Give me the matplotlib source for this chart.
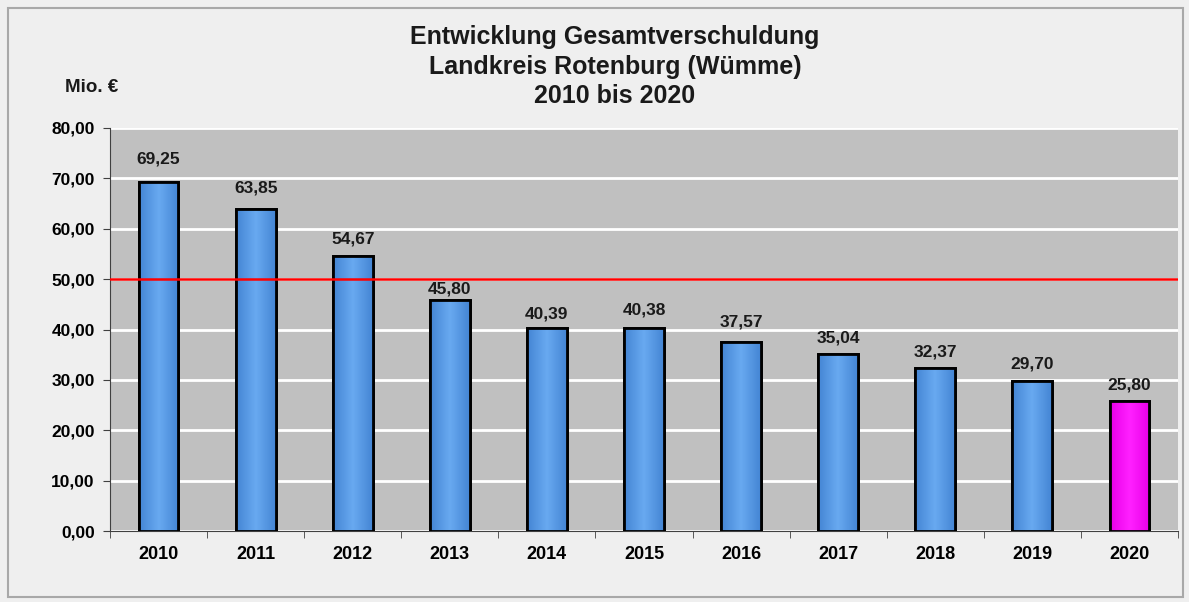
import numpy as np
import matplotlib.pyplot as plt
from matplotlib.patches import Rectangle
from matplotlib.colors import LinearSegmentedColormap

plt.rcParams['font.family'] = ['Liberation Sans', 'DejaVu Sans']

# Daten
jahre = ['2010', '2011', '2012', '2013', '2014', '2015', '2016', '2017', '2018', '2019', '2020']
schulden = [69.25, 63.85, 54.67, 45.80, 40.39, 40.38, 37.57, 35.04, 32.37, 29.70, 25.80]
grenze = 50.0
yticks = [0, 10, 20, 30, 40, 50, 60, 70, 80]

# Abstand der Beschriftung über dem Balken (Pixel), wie im Original
label_abstand = [16, 14, 9, 4, 6, 10, 12, 9, 8, 10, 9]

fig = plt.figure(figsize=(11.89, 6.02), dpi=100)
fig.patch.set_facecolor('#efefef')

# Rahmen um das Diagramm
fig.patches.append(Rectangle((8 / 1189, 5 / 602), 1175 / 1189, 589 / 602, transform=fig.transFigure,
                             fill=False, edgecolor='#a8a8a8', linewidth=1.5))

ax = fig.add_axes([110 / 1189, 71 / 602, 1068 / 1189, 403 / 602])
ax.set_facecolor('#c0c0c0')

x = np.arange(len(jahre))
farben = ['#5a9ae4'] * (len(jahre) - 1) + ['#ff00ff']
bars = ax.bar(x, schulden, width=0.41, color=farben, edgecolor='black', linewidth=2, zorder=3)

# leichter Farbverlauf in den Balken
grad = np.abs(np.linspace(-1, 1, 64))[None, :]
blau = LinearSegmentedColormap.from_list('blau', ['#68a9f0', '#4485d4'])
pink = LinearSegmentedColormap.from_list('pink', ['#ff20ff', '#e800e8'])
for b, f in zip(bars, farben):
    im = ax.imshow(grad, extent=[b.get_x(), b.get_x() + b.get_width(), 0, b.get_height()],
                   aspect='auto', cmap=pink if f == '#ff00ff' else blau, zorder=3.5)
    im.set_clip_path(b)
    ax.add_patch(Rectangle((b.get_x(), 0), b.get_width(), b.get_height(), fill=False,
                           edgecolor='black', linewidth=2, zorder=4))

for xi, v, d in zip(x, schulden, label_abstand):
    ax.annotate(f'{v:.2f}'.replace('.', ','), (xi, v), xytext=(0, d * 0.72), textcoords='offset points',
                ha='center', va='bottom', fontsize=12.5, fontweight='bold', color='#1a1a1a', zorder=6)

ax.axhline(grenze, color='#ff0000', linewidth=1.8, zorder=5)

ax.set_ylim(0, 80)
ax.set_xlim(-0.5, len(jahre) - 0.5)
ax.set_yticks(yticks)
ax.set_yticklabels([f'{t:.2f}'.replace('.', ',') for t in yticks], fontsize=12.5, fontweight='bold')
ax.yaxis.grid(True, color='white', linewidth=2)
ax.set_axisbelow(True)

ax.set_xticks(x)
ax.set_xticklabels(jahre, fontsize=13, fontweight='bold')
ax.set_xticks(np.arange(-0.5, len(jahre)), minor=True)
ax.tick_params(axis='x', which='major', length=0, pad=11)
ax.tick_params(axis='x', which='minor', length=5, color='#404040')
ax.tick_params(axis='y', length=5, color='#404040', pad=6)

for s in ['top', 'right']:
    ax.spines[s].set_visible(False)
for s in ['left', 'bottom']:
    ax.spines[s].set_color('#404040')

titel = ['Entwicklung Gesamtverschuldung', 'Landkreis Rotenburg (Wümme)', '2010 bis 2020']
for zeile, y in zip(titel, [37, 67, 96]):
    fig.text(615 / 1189, 1 - y / 602, zeile, ha='center', va='center',
             fontsize=18, fontweight='bold', color='#1a1a1a')
fig.text(92 / 1189, 1 - 88 / 602, 'Mio. €', ha='center', va='center',
         fontsize=13.5, fontweight='bold', color='#1a1a1a')

fig.savefig('out.png', dpi=100, facecolor=fig.get_facecolor())
